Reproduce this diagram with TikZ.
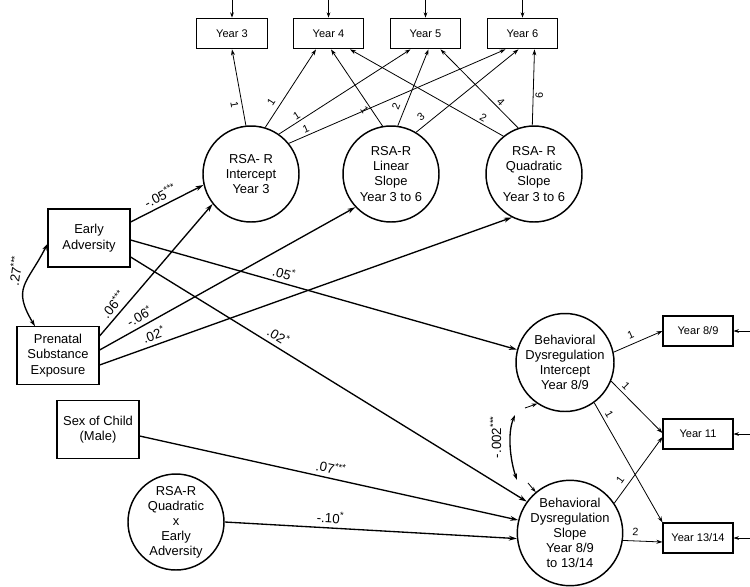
\documentclass[tikz,border=0pt]{standalone}
\usepackage{fontspec}
\setmainfont{Liberation Sans}
\usetikzlibrary{arrows.meta,calc}
\newcommand\sig[1]{\textsuperscript{#1}}
\begin{document}
\begin{tikzpicture}[x=0.75pt,y=-0.75pt,
  box/.style={draw,line width=0.9pt,align=center,inner sep=0pt,minimum width=61.5pt,minimum height=43pt,font=\fontsize{9.7}{11.5}\selectfont},
  ybox/.style={draw,line width=0.8pt,minimum width=53pt,minimum height=23pt,inner sep=0pt,font=\fontsize{8.3}{10}\selectfont},
  lat/.style={draw,circle,line width=1.1pt,minimum size=72pt,inner sep=0pt,align=center,font=\fontsize{9.7}{11.3}\selectfont},
  blat/.style={lat,minimum size=73.5pt},
  reg/.style={line width=1pt,-{Stealth[length=6pt,width=3.6pt]}},
  load/.style={line width=0.6pt,-{Stealth[length=4.5pt,width=3pt]}},
  resid/.style={line width=0.6pt,-{Stealth[length=4pt,width=2.8pt]}},
  cov/.style={line width=1pt,{Stealth[length=5pt,width=3.2pt]}-{Stealth[length=5pt,width=3.2pt]}},
  lab/.style={font=\fontsize{10}{12}\selectfont,inner sep=0.5pt,sloped,above=2.5pt},
  ll/.style={font=\fontsize{8}{9}\selectfont,inner sep=1.5pt,sloped},
]
\useasboundingbox (0,0) rectangle (750,586);
\fill[white] (0,0) rectangle (750,586);

% observed RSA
\node[ybox] (y3) at (232,33.5) {Year 3};
\node[ybox] (y4) at (328.5,33.5) {Year 4};
\node[ybox] (y5) at (425.5,33.5) {Year 5};
\node[ybox] (y6) at (522.5,33.5) {Year 6};

% latent RSA
\node[lat] (ci) at (251,174) {RSA- R\\Intercept\\Year 3};
\node[lat] (cl) at (391,174) {RSA-R\\Linear\\Slope\\Year 3 to 6};
\node[lat] (cq) at (534,174) {RSA- R\\Quadratic\\Slope\\Year 3 to 6};

% predictors
\node[box,minimum height=43.5pt] (ea) at (89,238) {Early\\Adversity};
\node[box] (pse) at (58,355.5) {Prenatal\\Substance\\Exposure};
\node[box] (sex) at (98,429.5) {Sex of Child\\(Male)};
\node[lat] (qxe) at (176,522) {RSA-R\\Quadratic\\x\\Early\\Adversity};

% behavioral
\node[blat] (bi) at (565,362.5) {Behavioral\\Dysregulation\\Intercept\\Year 8/9};
\node[blat] (bs) at (570,533) {Behavioral\\Dysregulation\\Slope\\Year 8/9\\to 13/14};

\node[ybox,minimum width=52.5pt,minimum height=22.5pt] (y89) at (698,331) {Year 8/9};
\node[ybox,minimum width=52.5pt,minimum height=22.5pt] (y11) at (698,434) {Year 11};
\node[ybox,minimum width=52.5pt,minimum height=22.5pt] (y1314) at (698,538) {Year 13/14};

% residual arrows
\foreach \n in {y3,y4,y5,y6} {
  \coordinate (r\n) at ($(\n.north)+(0,-18)$);
  \draw[resid] (r\n) -- (\n.north);
}
\foreach \n in {y89,y11,y1314} {
  \coordinate (r\n) at ($(\n.east)+(17,0)$);
  \draw[resid] (r\n) -- (\n.east);
}
\coordinate (rbi) at (525,408);
\draw[resid] (rbi) -- (bi.236);
\coordinate (rbs) at (528,483);
\draw[resid] (rbs) -- (bs.130);

% RSA loadings
\draw[load] (ci.96) -- (y3.south) node[ll,pos=0.29,below=1pt] {1};
\draw[load] (ci.73) -- ($(y4.south)+(-12.5,0)$) node[ll,pos=0.26,above=2pt] {1};
\draw[load] (ci.55) -- ($(y5.south)+(-15,0)$) node[ll,pos=0.16,above] {1};
\draw[load] (ci.39) -- ($(y6.south)+(-17,0)$) node[ll,pos=0.09,above] {1};
\draw[load] (cl.100) -- ($(y4.south)+(2.5,0)$) node[ll,pos=0.25,below] {1};
\draw[load] (cl.82) -- ($(y5.south)+(3,0)$) node[ll,pos=0.21,above=2pt] {2};
\draw[load] (cl.59) -- ($(y6.south)+(-4,0)$) node[ll,pos=0.1,above=2pt] {3};
\draw[load] (cq.129) -- ($(y4.south)+(21.5,0)$) node[ll,pos=0.15,above] {2};
\draw[load] (cq.109) -- ($(y5.south)+(15,0)$) node[ll,pos=0.28,above] {4};
\draw[load] (cq.92) -- ($(y6.south)+(12,0)$) node[ll,pos=0.4,below] {6};

% behavioral loadings
\draw[load] (bi.12) -- (y89.west) node[ll,pos=0.42,above=2pt] {1};
\draw[load] (bi.-22) -- ($(y11.west)+(0,-1)$) node[ll,pos=0.19,above=1pt] {1};
\draw[load] (bi.-54) -- (y1314.north west) node[ll,pos=0.125,above=1pt] {1};
\draw[load] (bs.34) -- ($(y11.west)+(0,3)$) node[ll,pos=0.27,above=2pt] {1};
\draw[load] (bs.-8) -- ($(y1314.west)+(0,4)$) node[ll,pos=0.31,above=2pt] {2};

% regressions
\draw[reg] ($(ea.east)+(0,-16)$) -- (ci.193) node[lab,pos=0.47] {-.05\sig{***}};
\draw[reg] ($(pse.east)+(0,-19.5)$) -- (ci.218) node[lab,pos=0.19] {.06\sig{***}};
\draw[reg] ($(pse.east)+(0,-5.5)$) -- (cl.223) node[lab,pos=0.175] {-.06\sig{*}};
\draw[reg] ($(pse.east)+(0,9.5)$) -- (cq.243) node[lab,pos=0.14] {.02\sig{*}};
\draw[reg] ($(ea.east)+(0,2)$) -- (bi.165) node[lab,pos=0.39] {.05\sig{*}};
\draw[reg] ($(ea.east)+(0,19)$) -- (bs.144) node[lab,pos=0.36] {.02\sig{*}};
\draw[reg] ($(sex.east)+(0,6.5)$) -- (bs.166) node[lab,pos=0.5] {.07\sig{***}};
\draw[reg] (qxe.east) -- (bs.186) node[lab,pos=0.36] {-.10\sig{*}};

% covariances
\draw[cov] ($(ea.west)+(0,6)$) to[out=243,in=121,looseness=1.4]
  node[pos=0.3,left=4pt,rotate=82,anchor=south,font=\fontsize{10}{12}\selectfont] {.27\sig{***}}
  ($(pse.north)+(-23,0)$);
\coordinate (cvt) at ($(bi)+(-50,52.5)$);
\coordinate (cvb) at ($(bs)+(-53,-53)$);
\draw[cov] (cvt) to[out=247,in=109,looseness=0.8]
  node[pos=0.35,rotate=90,anchor=south,yshift=3pt,font=\fontsize{10}{12}\selectfont] {-.002\sig{***}}
  (cvb);
\end{tikzpicture}
\end{document}
